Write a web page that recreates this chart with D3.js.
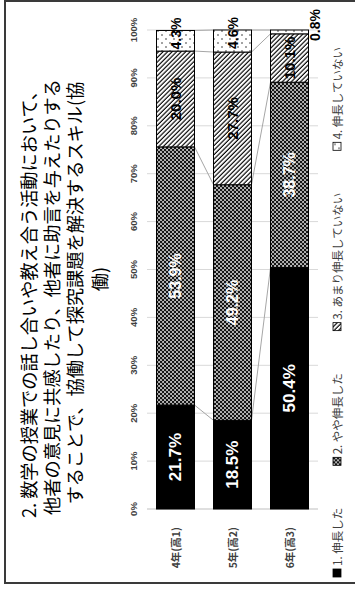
<!DOCTYPE html>
<html>
<head>
<meta charset="utf-8">
<script src="https://cdn.jsdelivr.net/npm/d3@7"></script>
<style>
  html, body { margin: 0; padding: 0; background: #fff; }
  svg { display: block; }
</style>
</head>
<body>
<div id="chart"></div>
<script>
// Survey result: share of answers per grade (percent)
const categories = ["4年(高1)", "5年(高2)", "6年(高3)"];
const seriesNames = ["1. 伸長した", "2. やや伸長した", "3. あまり伸長していない", "4. 伸長していない"];
const grown         = [21.7, 18.5, 50.4];
const somewhatGrown = [53.9, 49.2, 38.7];
const littleGrown   = [20.0, 27.7, 10.1];
const notGrown      = [4.3, 4.6, 0.8];
const tickValues = [0, 10, 20, 30, 40, 50, 60, 70, 80, 90, 100];
const tickLabels = tickValues.map(v => v + "%");
const titleLines = [
  "2. 数学の授業での話し合いや教え合う活動において、",
  "他者の意見に共感したり、他者に助言を与えたりする",
  "することで、協働して探究課題を解決するスキル(協",
  "働)"
];

const W = 355, H = 589;          // page size
const LW = H, LH = W;            // chart is laid out sideways, then turned a quarter

const table = categories.map((c, i) => ({
  cat: c,
  s0: grown[i], s1: somewhatGrown[i], s2: littleGrown[i], s3: notGrown[i]
}));
const keys = ["s0", "s1", "s2", "s3"];
const stacked = d3.stack().keys(keys)(table);

const svg = d3.select("#chart").append("svg")
  .attr("width", W).attr("height", H);

// ---- fill patterns ----
const defs = svg.append("defs");
// 2: dark with light dots
const p2 = defs.append("pattern").attr("id", "pat2")
  .attr("patternUnits", "userSpaceOnUse").attr("width", 4).attr("height", 4);
p2.append("rect").attr("width", 4).attr("height", 4).attr("fill", "#141414");
p2.append("circle").attr("cx", 1).attr("cy", 1).attr("r", 1.05).attr("fill", "#c4c4c4");
p2.append("circle").attr("cx", 3).attr("cy", 3).attr("r", 1.05).attr("fill", "#c4c4c4");
// 3: diagonal hatch
const p3 = defs.append("pattern").attr("id", "pat3")
  .attr("patternUnits", "userSpaceOnUse").attr("width", 6).attr("height", 3.2)
  .attr("patternTransform", "rotate(45)");
p3.append("rect").attr("width", 6).attr("height", 3.2).attr("fill", "#fff");
p3.append("line").attr("x1", 0).attr("x2", 6).attr("y1", 1).attr("y2", 1)
  .attr("stroke", "#000").attr("stroke-width", 1.15);
// 4: white with sparse dots
const p4 = defs.append("pattern").attr("id", "pat4")
  .attr("patternUnits", "userSpaceOnUse").attr("width", 8).attr("height", 8);
p4.append("rect").attr("width", 8).attr("height", 8).attr("fill", "#fff");
p4.append("circle").attr("cx", 2).attr("cy", 2).attr("r", 0.7).attr("fill", "#000");
p4.append("circle").attr("cx", 6).attr("cy", 6).attr("r", 0.7).attr("fill", "#000");

const fills = ["#000", "url(#pat2)", "url(#pat3)", "url(#pat4)"];

// whole chart drawn in its own frame, turned so text reads bottom-to-top
const g = svg.append("g").attr("transform", `translate(0,${H}) rotate(-90)`);

// outer frame
g.append("rect").attr("x", 6).attr("y", 5).attr("width", 582).attr("height", 360)
  .attr("fill", "#fff").attr("stroke", "#3a3a3a").attr("stroke-width", 2);

// title (centres measured along the long side)
const titleFont = "'Noto Sans CJK JP', 'Noto Sans CJK SC', sans-serif";
const titlePos = [
  { c: 300, y: 28 }, { c: 297, y: 51 }, { c: 293, y: 74 }, { c: 279, y: 99 }
];
g.append("g").selectAll("text").data(titleLines).join("text")
  .attr("x", (d, i) => LW - titlePos[i].c)
  .attr("y", (d, i) => titlePos[i].y)
  .attr("text-anchor", "middle").attr("dominant-baseline", "central")
  .attr("font-family", titleFont).attr("font-size", 18.2).attr("fill", "#000")
  .text(d => d);

// scales
const x = d3.scaleLinear().domain([0, 100]).range([80, 559]);
const y = d3.scaleBand().domain(categories).range([147, 318])
  .paddingInner(1 / 3).paddingOuter(1 / 6);
const bw = y.bandwidth();

// gridlines
g.append("g").selectAll("line").data(tickValues.filter(v => v > 0)).join("line")
  .attr("x1", d => x(d)).attr("x2", d => x(d))
  .attr("y1", 147).attr("y2", 318)
  .attr("stroke", "#d9d9d9").attr("stroke-width", 1);

// value axis labels
const axisFont = "'Liberation Sans', Arial, sans-serif";
g.append("g").selectAll("text").data(tickValues).join("text")
  .attr("x", d => x(d)).attr("y", 133)
  .attr("text-anchor", "middle").attr("dominant-baseline", "central")
  .attr("font-family", axisFont).attr("font-size", 9.5).attr("font-weight", "bold")
  .attr("fill", "#404040")
  .text((d, i) => tickLabels[i]);

// category axis line
g.append("line").attr("x1", x(0)).attr("x2", x(0)).attr("y1", 147).attr("y2", 318)
  .attr("stroke", "#bfbfbf").attr("stroke-width", 1);

// category labels
g.append("g").selectAll("text").data(categories).join("text")
  .attr("x", 62).attr("y", d => y(d) + bw / 2)
  .attr("text-anchor", "end").attr("dominant-baseline", "central")
  .attr("font-family", titleFont).attr("font-size", 10.5).attr("font-weight", "bold")
  .attr("fill", "#404040")
  .text(d => d);

// series lines joining segment boundaries of neighbouring bars
const seriesLines = [];
stacked.forEach(layer => {
  for (let i = 0; i < categories.length - 1; i++) {
    seriesLines.push({
      x1: x(layer[i][1]), y1: y(categories[i]) + bw,
      x2: x(layer[i + 1][1]), y2: y(categories[i + 1])
    });
  }
});
g.append("g").selectAll("line").data(seriesLines).join("line")
  .attr("x1", d => d.x1).attr("y1", d => d.y1)
  .attr("x2", d => d.x2).attr("y2", d => d.y2)
  .attr("stroke", "#a6a6a6").attr("stroke-width", 1);

// bars
g.append("g").selectAll("g").data(stacked).join("g")
  .attr("fill", (d, i) => fills[i])
  .selectAll("rect").data(d => d).join("rect")
  .attr("x", d => x(d[0])).attr("width", d => x(d[1]) - x(d[0]))
  .attr("y", d => y(d.data.cat)).attr("height", bw)
  .attr("stroke", "#000").attr("stroke-width", 1);

// data labels
const labelFont = "'Liberation Sans', Arial, sans-serif";
const labelStyle = [
  { size: 17, weight: "bold", color: "#fff" },
  { size: 16, weight: "bold", color: "#fff" },
  { size: 15, weight: "bold", color: "#000" },
  { size: 14, weight: "bold", color: "#000" }
];
const labels = [];
stacked.forEach((layer, k) => {
  layer.forEach((d, i) => {
    const v = d[1] - d[0];
    let lx = x((d[0] + d[1]) / 2), ly = y(d.data.cat) + bw / 2;
    if (k === 3) {
      if (v < 2) { lx = x(d[1]) + 5; ly = y(d.data.cat) + bw + 6; }
      else { lx = x(d[1]) - 3; }
    }
    labels.push({ k, lx, ly, text: v.toFixed(1) + "%" });
  });
});
g.append("g").selectAll("text").data(labels).join("text")
  .attr("x", d => d.lx).attr("y", d => d.ly)
  .attr("text-anchor", "middle").attr("dominant-baseline", "central")
  .attr("font-family", labelFont)
  .attr("font-size", d => labelStyle[d.k].size)
  .attr("font-weight", d => labelStyle[d.k].weight)
  .attr("fill", d => labelStyle[d.k].color)
  .text(d => d.text);

// legend: entries spread with equal gaps between the two ends of the strip
const legendStart = 12, legendEnd = 542;
const legend = g.append("g").attr("transform", "translate(0,337)");
const items = legend.selectAll("g").data(seriesNames).join("g");
items.append("rect").attr("x", 0).attr("y", -4).attr("width", 8).attr("height", 8)
  .attr("fill", (d, i) => fills[i]).attr("stroke", "#000").attr("stroke-width", 0.8);
const legendText = items.append("text").attr("x", 11).attr("y", 0)
  .attr("dominant-baseline", "central")
  .attr("font-family", titleFont).attr("font-size", 11.5).attr("fill", "#404040")
  .text(d => d);
const widths = [];
legendText.each(function () { widths.push(11 + this.getComputedTextLength()); });
const gap = (legendEnd - legendStart - d3.sum(widths)) / (widths.length - 1);
let cursor = legendStart;
items.attr("transform", (d, i) => {
  const t = `translate(${cursor},0)`;
  cursor += widths[i] + gap;
  return t;
});
</script>
</body>
</html>
